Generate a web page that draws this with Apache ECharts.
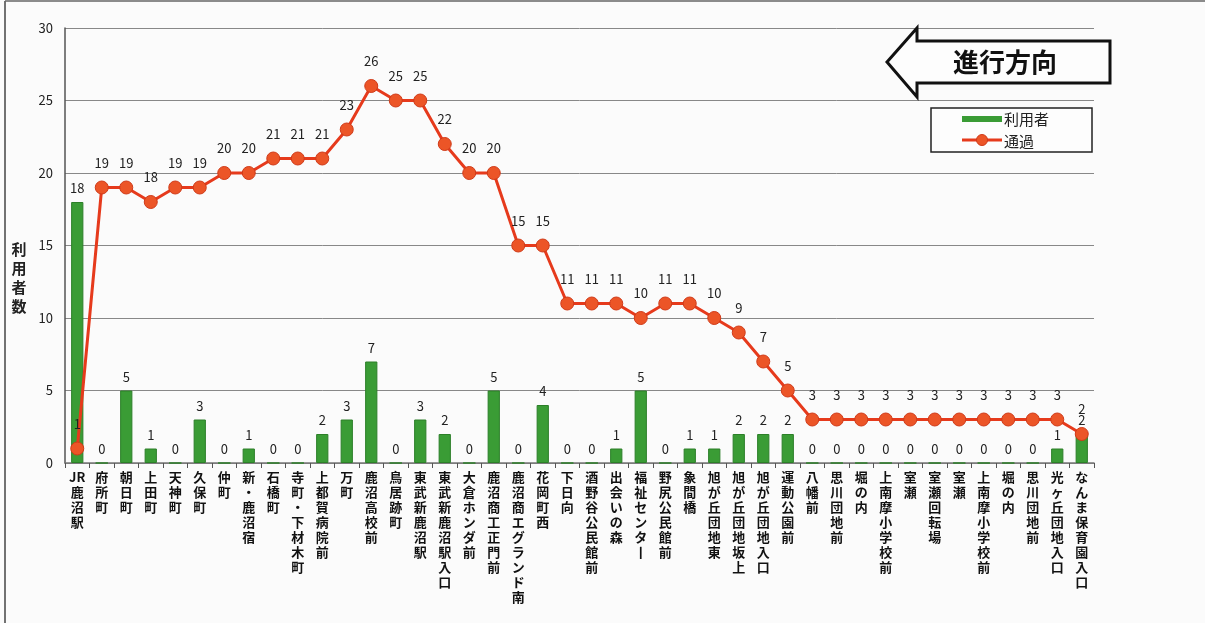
<!DOCTYPE html>
<html><head><meta charset="utf-8">
<script src="https://cdn.jsdelivr.net/npm/echarts@6/dist/echarts.min.js"></script>
<style>html,body{margin:0;padding:0;background:#fbfbfb}#c{width:1205px;height:623px}</style>
</head><body><div id="c"></div>
<script>
const categories = ['JR鹿沼駅','府所町','朝日町','上田町','天神町','久保町','仲町','新・鹿沼宿','石橋町','寺町・下材木町','上都賀病院前','万町','鹿沼高校前','鳥居跡町','東武新鹿沼駅','東武新鹿沼駅入口','大倉ホンダ前','鹿沼商工正門前','鹿沼商エグランド南','花岡町西','下日向','酒野谷公民館前','出会いの森','福祉センター','野尻公民館前','象間橋','旭が丘団地東','旭が丘団地坂上','旭が丘団地入口','運動公園前','八幡前','思川団地前','堀の内','上南摩小学校前','室瀬','室瀬回転場','室瀬','上南摩小学校前','堀の内','思川団地前','光ヶ丘団地入口','なんま保育園入口'];
const users = [18,0,5,1,0,3,0,1,0,0,2,3,7,0,3,2,0,5,0,4,0,0,1,5,0,1,1,2,2,2,0,0,0,0,0,0,0,0,0,0,1,2];
const passing = [1,19,19,18,19,19,20,20,21,21,21,23,26,25,25,22,20,20,15,15,11,11,11,10,11,11,10,9,7,5,3,3,3,3,3,3,3,3,3,3,3,2];
const yTicks = [0,5,10,15,20,25,30];
const yName = '利用者数';

function vert(s){
  const out=[];
  for(let i=0;i<s.length;i++){
    if(s[i]==='J'&&s[i+1]==='R'){out.push('JR');i++;continue;}
    out.push(s[i]==='ー'?'丨':s[i]);
  }
  return out.join('\n');
}
const font = "'Noto Sans CJK JP', sans-serif";
const chart = echarts.init(document.getElementById('c'));
chart.setOption({
  backgroundColor:'#fbfbfb',
  animation:false,
  textStyle:{fontFamily:font},
  grid:{left:65,right:111,top:28,bottom:160},
  xAxis:{
    type:'category',data:categories,boundaryGap:true,
    axisLine:{lineStyle:{color:'#777',width:1.5}},
    axisTick:{show:true,length:5,lineStyle:{color:'#555'}},
    axisLabel:{interval:0,formatter:v=>vert(v),fontSize:13,fontWeight:'bold',lineHeight:15,color:'#111',margin:7,verticalAlign:'top'}
  },
  yAxis:{
    type:'value',min:0,max:30,interval:5,
    axisLine:{show:true,lineStyle:{color:'#555',width:1.5}},
    axisTick:{show:false},
    axisLabel:{fontSize:13,color:'#222',margin:12,formatter:v=>yTicks.includes(v)?String(v):''},
    splitLine:{lineStyle:{color:'#888',width:1}}
  },
  series:[
    {name:'利用者',type:'bar',data:users,barWidth:'50%',
     itemStyle:{color:'#3a9c35',borderColor:'#2c7f28',borderWidth:1},
     label:{show:true,position:'top',distance:7,fontSize:13,color:'#222'}},
    {name:'通過',type:'line',data:passing,symbol:'circle',symbolSize:13,
     lineStyle:{color:'#e63a1c',width:3},
     itemStyle:{color:'#ec5527',borderColor:'#d03a18',borderWidth:1},
     label:{show:true,position:'top',distance:11,fontSize:13,color:'#222'},
     z:3}
  ],
  graphic:[
    {type:'line',shape:{x1:5,y1:1,x2:5,y2:623},style:{stroke:'#444',lineWidth:1.5}},
    {type:'line',shape:{x1:5,y1:1,x2:1205,y2:1},style:{stroke:'#666',lineWidth:1.5}},
    {type:'text',x:19,y:278,style:{text:yName.split('').join('\n'),font:'bold 15px '+font,lineHeight:19,fill:'#222',align:'center',verticalAlign:'middle'}},
    {type:'polygon',shape:{points:[[887,62],[917,28],[917,41],[1110,41],[1110,83],[917,83],[917,97]]},
     style:{fill:'#fdfdfd',stroke:'#111',lineWidth:3},z:10},
    {type:'text',x:1005,y:62,style:{text:'進行方向',font:'bold 26px '+font,fill:'#111',align:'center',verticalAlign:'middle'},z:11},
    {type:'rect',shape:{x:931,y:108,width:161,height:44},style:{fill:'#fdfdfd',stroke:'#222',lineWidth:1.5},z:10},
    {type:'rect',shape:{x:962,y:116,width:40,height:6},style:{fill:'#3a9c35'},z:11},
    {type:'text',x:1004,y:119,style:{text:'利用者',font:'15px '+font,fill:'#222',verticalAlign:'middle'},z:11},
    {type:'line',shape:{x1:962,y1:140,x2:1002,y2:140},style:{stroke:'#e63a1c',lineWidth:3},z:11},
    {type:'circle',shape:{cx:982,cy:140,r:5.5},style:{fill:'#ec5527',stroke:'#d03a18'},z:12},
    {type:'text',x:1004,y:141,style:{text:'通過',font:'15px '+font,fill:'#222',verticalAlign:'middle'},z:11}
  ]
});
</script></body></html>
